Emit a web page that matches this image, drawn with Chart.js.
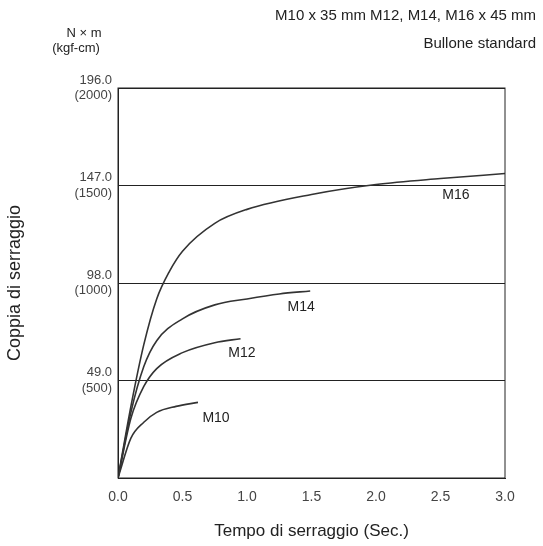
<!DOCTYPE html><html><head><meta charset="utf-8">
<script src="https://cdn.jsdelivr.net/npm/chart.js@4"></script>
<style>html,body{margin:0;padding:0;background:#fff}#w{width:543px;height:546px}</style></head><body><div id="w"><canvas id="c"></canvas></div>
<script>
const yTicks=[49,98,147,196];
const yTickLabels=[["49.0","(500)"],["98.0","(1000)"],["147.0","(1500)"],["196.0","(2000)"]];
const xTicks=[0,0.5,1,1.5,2,2.5,3];
const m16=[[0,0],[0.1,36],[0.2,67],[0.3,90],[0.4,104],[0.5,114],[0.75,128],[1,135],[1.5,142.5],[2,147.5],[2.5,150.5],[3,153]];
const m14=[[0,0],[0.1,33],[0.2,56],[0.3,69],[0.5,80],[0.75,87],[1,90],[1.25,92.5],[1.49,94]];
const m12=[[0,0],[0.1,30],[0.2,46],[0.3,55],[0.5,63],[0.75,68],[0.95,70]];
const m10=[[0,0],[0.1,20],[0.2,28],[0.3,33],[0.45,36],[0.62,38]];
const curveLabels=[["M16",2.62,140],["M14",1.42,84],["M12",0.96,61],["M10",0.76,28]];
const F='"Liberation Sans", Arial, sans-serif';
const ds=a=>({data:a.map(p=>({x:p[0],y:p[1]})),borderColor:'#333',borderWidth:1.6,pointRadius:0,cubicInterpolationMode:'monotone',fill:false});
const deco={id:'deco',afterDraw(ch){const c=ch.ctx,a=ch.chartArea;c.save();c.strokeStyle='#222';c.lineWidth=1;c.strokeRect(a.left,a.top,a.right-a.left,a.bottom-a.top);
c.fillStyle='#222';c.font='15px '+F;c.textAlign='right';c.textBaseline='alphabetic';
c.fillText('M10 x 35 mm M12, M14, M16 x 45 mm',536,20);c.fillText('Bullone standard',536,48);
c.font='13px '+F;c.textAlign='center';c.fillText('N \u00d7 m',84,37);c.fillText('(kgf-cm)',76,52);
c.font='14px '+F;const xs=ch.scales.x,ys=ch.scales.y;
curveLabels.forEach(l=>{c.fillText(l[0],xs.getPixelForValue(l[1]),ys.getPixelForValue(l[2]));});
c.restore();}};
new Chart(document.getElementById('c'),{type:'line',data:{datasets:[ds(m16),ds(m14),ds(m12),ds(m10)]},
plugins:[deco],
options:{responsive:true,maintainAspectRatio:false,animation:false,layout:{padding:{top:88,right:38,left:0,bottom:0}},
plugins:{legend:{display:false},tooltip:{enabled:false}},
scales:{x:{type:'linear',min:0,max:3,afterBuildTicks:s=>{s.ticks=xTicks.map(v=>({value:v}));},
afterFit:s=>{s.height=68;},
grid:{display:false,drawTicks:true},border:{color:'#222'},
ticks:{color:'#444',font:{size:14,family:F},callback:v=>v.toFixed(1),padding:3},
title:{display:true,text:'Tempo di serraggio (Sec.)',color:'#222',font:{size:17,family:F},padding:{top:14}}},
y:{min:0,max:196,afterBuildTicks:s=>{s.ticks=[0,...yTicks].map(v=>({value:v}));},
afterFit:s=>{s.width=118;},
grid:{color:'#222',lineWidth:1,drawTicks:false},border:{color:'#222'},
ticks:{color:'#444',font:{size:13,family:F},padding:6,callback:v=>{const i=yTicks.indexOf(v);return i<0?'':yTickLabels[i];}},
title:{display:true,text:'Coppia di serraggio',color:'#222',font:{size:18,family:F},padding:{bottom:8}}}}}});
</script></body></html>
